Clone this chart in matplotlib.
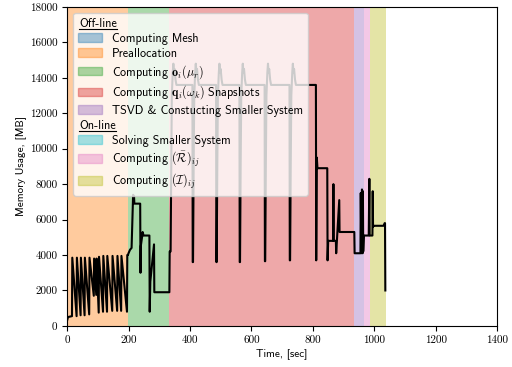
import matplotlib
matplotlib.use("Agg")
import matplotlib.pyplot as plt
import matplotlib.patches as mpatches
from matplotlib.lines import Line2D

plt.rcParams['font.family'] = ['cmss10', 'DejaVu Sans']
plt.rcParams['mathtext.fontset'] = 'cm'
plt.rcParams['axes.unicode_minus'] = False
plt.rcParams['axes.formatter.use_mathtext'] = True

# ---- data ----
time_sec = [
    0, 3, 16, 17, 31, 32, 44, 45, 57, 58, 72, 73, 87, 88, 95, 96, 103, 104,
    117, 118, 130, 131, 147, 148, 163, 164, 176, 177, 195, 196,
    198, 200, 205, 210, 215, 218, 219, 238, 239, 240, 244, 246, 249, 268,
    269, 271, 283, 284, 333, 334, 337,
    339, 341, 344, 346, 348, 350, 353, 356, 408, 409,
    410, 412, 414, 417, 419, 421, 423, 426, 429, 485, 486,
    487, 489, 491, 494, 496, 498, 500, 503, 506, 561, 562,
    563, 565, 567, 570, 572, 574, 576, 579, 582, 643, 644,
    645, 647, 649, 652, 654, 656, 658, 661, 664, 724, 725,
    726, 728, 730, 733, 735, 737, 739, 742, 745, 810, 811,
    813, 815, 847, 848, 850, 866, 867, 868, 875, 876, 886, 887, 888,
    935, 936, 955, 956, 958, 960, 962, 963, 964, 966, 967,
    982, 984, 985, 994, 995, 996, 997, 1030, 1034, 1035, 1036,
]
memory_mb = [
    300, 500, 550, 3850, 550, 3850, 600, 3850, 600, 3850, 650, 3850, 1700, 3800, 1750, 3800, 750, 3900,
    800, 3950, 800, 3950, 850, 3950, 850, 3950, 850, 3950, 800, 4000,
    4000, 4100, 4300, 4400, 7400, 7300, 6900, 6900, 3000, 4500, 5000, 5300, 5100, 5100,
    800, 2500, 4600, 1900, 1900, 4200, 4200,
    9000, 13000, 14300, 14800, 14300, 14500, 13900, 13600, 13600, 3600,
    3600, 9000, 13000, 14300, 14800, 14300, 14500, 13900, 13600, 13600, 3600,
    3600, 9000, 13000, 14300, 14800, 14300, 14500, 13900, 13600, 13600, 3600,
    3600, 9000, 13000, 14300, 14800, 14300, 14500, 13900, 13600, 13600, 3650,
    3650, 9000, 13000, 14300, 14800, 14300, 14500, 13900, 13600, 13600, 3700,
    3700, 9000, 13000, 14300, 14800, 14300, 14500, 13900, 13600, 13600, 3700,
    9500, 8900, 8900, 3700, 4800, 4800, 8000, 4800, 4800, 4100, 7100, 5300, 5300,
    5300, 4100, 4100, 7500, 4100, 7700, 4100, 7600, 4200, 5100, 5100,
    5100, 8300, 5100, 5100, 7600, 5600, 5650, 5650, 5800, 5800, 2000,
]

phase_labels = [
    'Computing Mesh', 'Preallocation', r'Computing $\mathbf{o}_i(\mu_r)$',
    r'Computing $\mathbf{q}_i(\omega_k)$ Snapshots', 'TSVD & Constucting Smaller System',
    'Solving Smaller System', r'Computing $(\bar{\mathcal{R}})_{ij}$', r'Computing $(\mathcal{I})_{ij}$',
]
phase_start = [0, 0.5, 198, 333, 935, 967, 968, 986]
phase_end = [0.5, 198, 333, 935, 967, 968, 986, 1037]
phase_colors = ['tab:blue', 'tab:orange', 'tab:green', 'tab:red', 'tab:purple',
                'tab:cyan', 'tab:pink', 'tab:olive']

x_ticks = [0, 200, 400, 600, 800, 1000, 1200, 1400]
y_ticks = [0, 2000, 4000, 6000, 8000, 10000, 12000, 14000, 16000, 18000]

# ---- figure ----
fig = plt.figure(figsize=(5.12, 3.67), dpi=100)
ax = fig.add_axes([0.131, 0.112, 0.840, 0.869])

handles = []
for lab, s, e, c in zip(phase_labels, phase_start, phase_end, phase_colors):
    ax.axvspan(s, e, color=c, alpha=0.4, lw=0)
    handles.append(mpatches.Patch(color=c, alpha=0.4, label=lab))

ax.plot(time_sec, memory_mb, color='black', lw=1.5)

ax.set_xlim(0, 1400)
ax.set_ylim(0, 18000)
ax.set_xticks(x_ticks)
ax.set_yticks(y_ticks)
ax.set_xticklabels([str(v) for v in x_ticks], fontfamily='cmr10', fontsize=8)
ax.set_yticklabels([str(v) for v in y_ticks], fontfamily='cmr10', fontsize=8)
ax.set_xlabel('Time, [sec]', fontsize=8, labelpad=2)
ax.set_ylabel('Memory Usage, [MB]', fontsize=8, labelpad=3)

blank = mpatches.Patch(visible=False)
leg_handles = [blank] + handles[:5] + [blank] + handles[5:]
leg_labels = ['Off-line'] + phase_labels[:5] + ['On-line'] + phase_labels[5:]
leg = ax.legend(leg_handles, leg_labels, loc='upper left', fontsize=8.7,
                handlelength=2.0, labelspacing=0.25, borderaxespad=0.5)

fig.canvas.draw()
renderer = fig.canvas.get_renderer()
for t in leg.get_texts():
    if t.get_text() in ('Off-line', 'On-line'):
        t.set_position((-(25 + 7.5), 0))
fig.canvas.draw()
for t in leg.get_texts():
    if t.get_text() in ('Off-line', 'On-line'):
        bb = t.get_window_extent(renderer)
        x0, x1 = bb.x0 / fig.bbox.width, bb.x1 / fig.bbox.width
        y = (bb.y0 + 1) / fig.bbox.height
        fig.add_artist(Line2D([x0, x1], [y, y], color='black', lw=0.8,
                              transform=fig.transFigure, zorder=10))

fig.savefig('out.png', dpi=100)
